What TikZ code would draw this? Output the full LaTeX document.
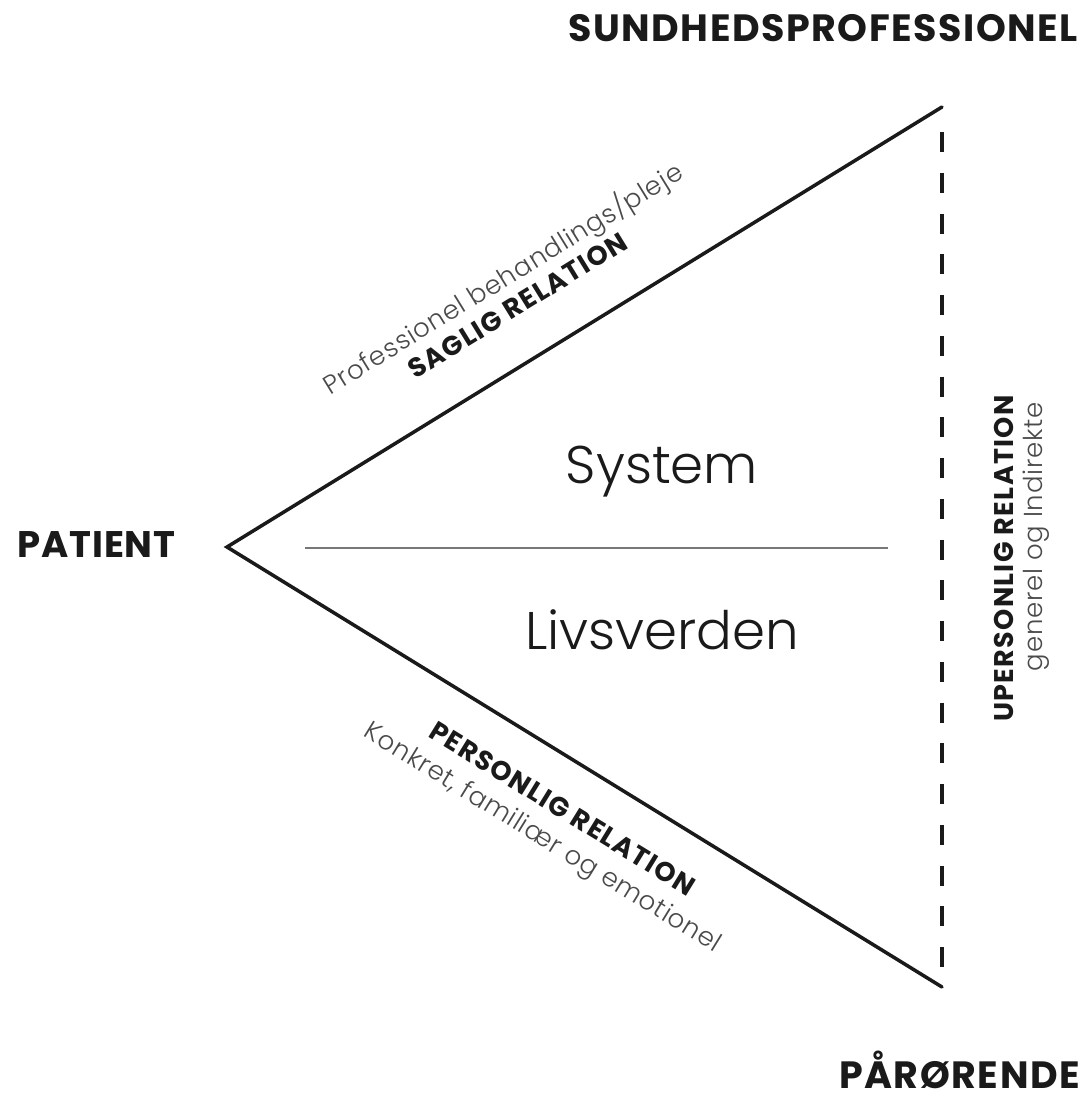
\documentclass[tikz,border=0pt]{standalone}
\usepackage{fontspec}
\setmainfont{Poppins}
\newfontfamily\headf{Poppins Bold}[LetterSpace=4]
\newfontfamily\patf{Poppins Bold}[LetterSpace=2.5]
\newfontfamily\boldf{Poppins Bold}[LetterSpace=5]
\newfontfamily\lightf{Poppins Light}[LetterSpace=3]
\newfontfamily\bigf{Poppins Light}
\definecolor{ink}{HTML}{1A1A1A}
\definecolor{soft}{HTML}{4A4A4A}
\definecolor{rule}{HTML}{777777}
\tikzset{
  header/.style={inner sep=0pt, text=ink, text depth=0pt, font=\headf\fontsize{38}{38}\selectfont},
  patheader/.style={inner sep=0pt, text=ink, font=\patf\fontsize{37}{37}\selectfont},
  rellabel/.style={inner sep=0pt, text=ink, text height=13pt, text depth=0pt, font=\boldf\fontsize{27}{27}\selectfont},
  sublabel/.style={inner sep=0pt, text=soft, font=\lightf\fontsize{26}{26}\selectfont},
  bigword/.style={inner sep=0pt, text=ink, font=\bigf\fontsize{53}{53}\selectfont},
  edge/.style={draw=ink, line width=3.5pt, line cap=round, line join=miter},
  dashedge/.style={draw=ink, line width=4pt, dash pattern=on 20pt off 20.75pt},
  divider/.style={draw=rule, line width=1.5pt}
}
\begin{document}
\begin{tikzpicture}[x=1pt,y=-1pt]
\useasboundingbox (0,0) rectangle (1086,1097);
% vertices
\coordinate (P) at (227,547);
\coordinate (S) at (942,107);
\coordinate (R) at (942,987);
\coordinate (d1) at (942,132);
\coordinate (d2) at (942,972);
\coordinate (h1) at (305,548);
\coordinate (h2) at (888,548);
% lines
\draw[edge] (S) -- (P) -- (R);
\draw[dashedge] (d1) -- (d2);
\draw[divider] (h1) -- (h2);
% headers
\node[header, anchor=base east] (sund) at (1078,42) {SUNDHEDSPROFESSIONEL};
\node[patheader, anchor=base west] (pat) at (17,557) {PATIENT};
\node[header, anchor=base east] (par) at (1080,1088) {PÅRØRENDE};
% big words
\node[bigword, anchor=base] (sys) at (662,483) {System};
\node[bigword, anchor=base] (liv) at (662,649) {Livsverden};
% upper labels
\node[rellabel, rotate=31.6] (sag) at (519,308) {SAGLIG RELATION};
\node[sublabel, rotate=31.6] (prof) at (503,279) {Professionel behandlings/pleje};
% lower labels
\node[rellabel, rotate=-31.6] (pers) at (561,811) {PERSONLIG RELATION};
\node[sublabel, rotate=-31.6] (konk) at (542,839) {Konkret, familiær og emotionel};
% right labels
\node[rellabel, rotate=90, anchor=base east] (uper) at (1013,395) {UPERSONLIG RELATION};
\node[sublabel, rotate=90, anchor=base east] (gen) at (1042,402) {generel og Indirekte};
\end{tikzpicture}
\end{document}
